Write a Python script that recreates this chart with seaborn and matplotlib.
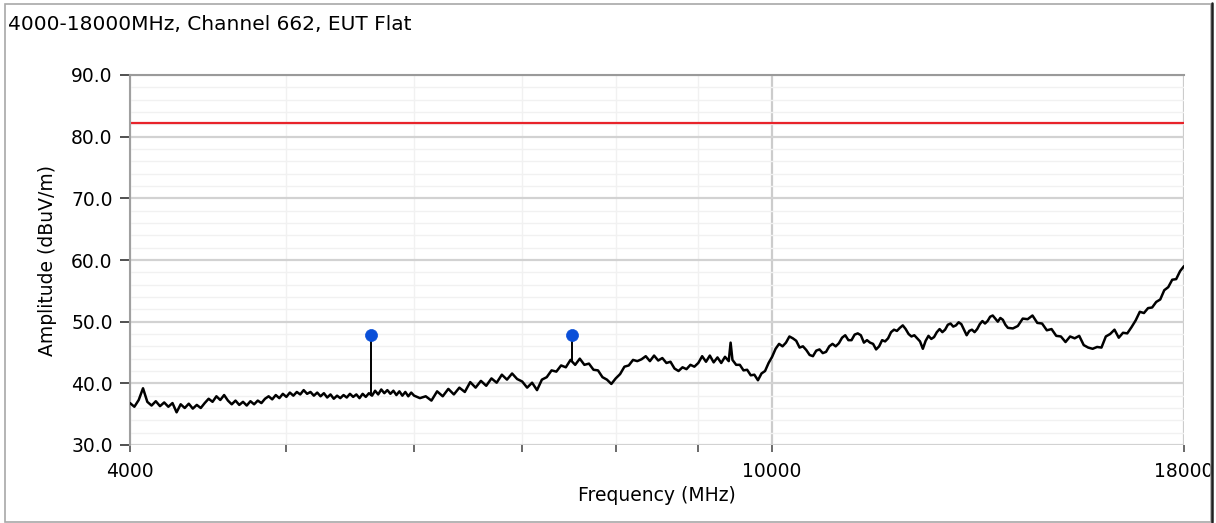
import numpy as np
import pandas as pd
import matplotlib
matplotlib.use("Agg")
import matplotlib.pyplot as plt
import seaborn as sns
from matplotlib.ticker import FixedLocator, FixedFormatter, NullFormatter
from matplotlib.patches import Rectangle
from matplotlib.lines import Line2D

# ---------------- data ----------------
title = "4000-18000MHz, Channel 662, EUT Flat"
x_label = "Frequency (MHz)"
y_label = "Amplitude (dBuV/m)"

freq_a = [4000, 4025, 4050, 4075, 4100, 4125, 4150, 4175, 4200, 4225, 4250, 4275, 4300, 4325, 4350,
          4375, 4400, 4425, 4450, 4475, 4500, 4525, 4550, 4575, 4600, 4625, 4650, 4675, 4700, 4725,
          4750, 4775, 4800, 4825, 4850, 4875, 4900, 4925, 4950, 4975, 5000, 5025, 5050, 5075, 5100,
          5125, 5150, 5175, 5200, 5225, 5250, 5275, 5300, 5325, 5350, 5375, 5400, 5425, 5450, 5475,
          5500, 5525, 5550, 5575, 5600, 5625, 5650, 5675, 5700, 5725, 5750, 5775, 5800, 5825, 5850,
          5875, 5900, 5925, 5950, 5975, 6000]
amp_a = [36.8, 36.2, 37.3, 39.2, 37.0, 36.4, 37.1, 36.3, 36.9, 36.2,
         36.8, 35.3, 36.6, 36.0, 36.7, 35.9, 36.5, 36.0, 36.8, 37.5,
         37.0, 37.9, 37.3, 38.1, 37.2, 36.6, 37.2, 36.5, 37.0, 36.4,
         37.1, 36.6, 37.2, 36.8, 37.5, 37.9, 37.4, 38.1, 37.6, 38.3,
         37.8, 38.5, 38.0, 38.6, 38.2, 38.9, 38.3, 38.6, 38.0, 38.5,
         37.9, 38.4, 37.7, 38.2, 37.5, 38.0, 37.6, 38.1, 37.7, 38.3,
         37.8, 38.2, 37.6, 38.3, 37.8, 38.4, 38.0, 38.8, 38.2, 39.0,
         38.4, 38.9, 38.3, 38.8, 38.1, 38.7, 38.0, 38.6, 37.9, 38.5,
         38.0]

freq_b = [6050, 6100, 6150, 6200, 6250, 6300, 6350, 6400, 6450, 6500,
          6550, 6600, 6650, 6700, 6750, 6800, 6850, 6900, 6950, 7000,
          7050, 7100, 7150, 7200, 7250, 7300, 7350, 7400, 7450, 7500,
          7550, 7600, 7650, 7700, 7750, 7800, 7850, 7900, 7950, 8000,
          8050, 8100, 8150, 8200, 8250, 8300, 8350, 8400, 8450, 8500,
          8550, 8600, 8650, 8700, 8750, 8800, 8850, 8900, 8950, 9000,
          9050, 9100, 9150, 9200, 9250, 9300, 9350, 9400, 9425, 9450,
          9500, 9550, 9600, 9650, 9700, 9750, 9800, 9850, 9900, 9950,
          10000]
amp_b = [37.6, 37.9, 37.2, 38.7, 37.9, 39.1, 38.2, 39.3, 38.6, 40.2,
         39.3, 40.4, 39.6, 40.8, 40.1, 41.4, 40.6, 41.6, 40.7, 40.3,
         39.3, 40.1, 38.9, 40.6, 41.0, 42.1, 41.9, 42.9, 42.6, 43.8,
         43.0, 44.0, 43.0, 43.2, 42.2, 42.1, 41.0, 40.6, 39.9, 40.8,
         41.5, 42.7, 42.9, 43.8, 43.6, 43.9, 44.4, 43.6, 44.5, 43.7,
         44.1, 43.3, 43.5, 42.4, 42.0, 42.6, 42.3, 43.0, 42.7, 43.3,
         44.4, 43.5, 44.5, 43.4, 44.2, 43.3, 44.3, 43.6, 46.6, 43.8,
         43.0, 43.0, 42.1, 42.2, 41.3, 41.4, 40.5, 41.6, 42.0, 43.3,
         44.3]

freq_c = [10050, 10100, 10150, 10200, 10250, 10300, 10350, 10400, 10450, 10500,
          10550, 10600, 10650, 10700, 10750, 10800, 10850, 10900, 10950, 11000,
          11050, 11100, 11150, 11200, 11250, 11300, 11350, 11400, 11450, 11500,
          11550, 11600, 11650, 11700, 11750, 11800, 11850, 11900, 11950, 12000,
          12050, 12100, 12150, 12200, 12250, 12300, 12350, 12400, 12450, 12500,
          12550, 12600, 12650, 12700, 12750, 12800, 12850, 12900, 12950, 13000,
          13050, 13100, 13150, 13200, 13250, 13300, 13350, 13400, 13450, 13500,
          13550, 13600, 13650, 13700, 13750, 13800, 13850, 13900, 13950, 14000,
          14100, 14200, 14300, 14400, 14500, 14600, 14700, 14800, 14900, 15000,
          15100, 15200, 15300, 15400, 15500, 15600, 15700, 15800, 15900, 16000,
          16100, 16200, 16300, 16400, 16500, 16600, 16700, 16800, 16900, 17000,
          17100, 17200, 17300, 17400, 17500, 17600, 17700, 17800, 17900, 18000]
amp_c = [45.6, 46.4, 46.0, 46.6, 47.6, 47.3, 46.9, 45.8, 46.0, 45.4,
         44.6, 44.4, 45.3, 45.5, 44.9, 45.1, 46.0, 46.4, 46.0, 46.5,
         47.4, 47.8, 47.0, 47.0, 47.9, 48.1, 47.8, 46.6, 47.0, 46.6,
         46.4, 45.5, 46.0, 47.0, 46.8, 47.3, 48.3, 48.7, 48.5, 49.0,
         49.4, 48.8, 48.0, 47.6, 47.8, 47.3, 46.8, 45.6, 46.9, 47.7,
         47.2, 47.5, 48.3, 48.8, 48.3, 48.7, 49.5, 49.7, 49.2, 49.4,
         49.9, 49.6, 48.7, 47.8, 48.5, 48.7, 48.3, 48.8, 49.6, 50.1,
         49.7, 50.1, 50.8, 51.0, 50.5, 50.0, 50.6, 50.3, 49.5, 49.0,
         48.9, 49.3, 50.5, 50.4, 51.0, 49.8, 49.7, 48.6, 48.8, 47.7,
         47.6, 46.7, 47.6, 47.3, 47.7, 46.2, 45.8, 45.6, 45.9, 45.8,
         47.6, 48.0, 48.7, 47.4, 48.2, 48.1, 49.1, 50.2, 51.6, 51.4,
         52.2, 52.3, 53.2, 53.6, 55.1, 55.6, 56.8, 56.9, 58.2, 59.0]

marker_freq = [5640, 7520]
marker_amp = [47.8, 47.8]
marker_base = [38.0, 43.4]

limit_value = 82.2

x_major = [4000, 10000, 18000]
x_major_labels = ["4000", "10000", "18000"]
x_minor = [5000, 6000, 7000, 8000, 9000]
y_major = [30, 40, 50, 60, 70, 80, 90]
y_minor = [32, 34, 36, 38, 42, 44, 46, 48, 52, 54, 56, 58, 62, 64, 66, 68, 72, 74, 76, 78, 82, 84, 86, 88]

# ---------------- plot ----------------
sns.set_style("white")
plt.rcParams["font.family"] = ["DejaVu Sans"]
plt.rcParams["text.color"] = "black"
plt.rcParams["axes.labelcolor"] = "black"
plt.rcParams["xtick.labelcolor"] = "black"
plt.rcParams["ytick.labelcolor"] = "black"

W, H = 1216, 523
fig = plt.figure(figsize=(W / 100, H / 100), dpi=100)
ax = fig.add_axes([130 / W, 1 - 445 / H, (1184 - 130) / W, (445 - 75) / H])

df = pd.DataFrame({"freq": freq_a + freq_b + freq_c, "amp": amp_a + amp_b + amp_c})
sns.lineplot(data=df, x="freq", y="amp", ax=ax, color="black", lw=1.8,
             estimator=None, sort=False, zorder=3)

ax.axhline(limit_value, color="#e8232a", lw=1.6, zorder=2)

ax.vlines(marker_freq, marker_base, marker_amp, color="black", lw=1.4, zorder=4)
sns.scatterplot(x=marker_freq, y=marker_amp, ax=ax, s=75, color="#0a4fd8",
                edgecolor="#0a4fd8", linewidth=0.5, zorder=5)

ax.set_xscale("log")
ax.set_xlim(4000, 18000)
ax.set_ylim(30, 90)

ax.xaxis.set_major_locator(FixedLocator(x_major))
ax.xaxis.set_major_formatter(FixedFormatter(x_major_labels))
ax.xaxis.set_minor_locator(FixedLocator(x_minor))
ax.xaxis.set_minor_formatter(NullFormatter())
ax.yaxis.set_major_locator(FixedLocator(y_major))
ax.set_yticklabels([f"{v:.1f}" for v in y_major])
ax.yaxis.set_minor_locator(FixedLocator(y_minor))

ax.set_axisbelow(True)
ax.grid(which="major", axis="y", color="#d2d2d2", lw=1.6)
ax.grid(which="minor", axis="y", color="#f1f1f1", lw=1.0)
ax.grid(which="major", axis="x", color="#cccccc", lw=1.6)
ax.grid(which="minor", axis="x", color="#f1f1f1", lw=1.0)

ax.tick_params(axis="y", which="major", direction="out", length=7.5, width=1.4,
               color="#505050", labelsize=13.5, labelcolor="black", pad=5, left=True)
ax.tick_params(axis="y", which="minor", length=0, left=False)
ax.tick_params(axis="x", which="both", direction="out", length=5, width=1.2,
               color="#505050", labelsize=13.5, labelcolor="black", pad=7, bottom=True)

for side in ["right", "bottom"]:
    ax.spines[side].set_visible(False)
ax.spines["left"].set_color("#a0a0a0")
ax.spines["left"].set_linewidth(1.5)
ax.spines["top"].set_color("#9a9a9a")
ax.spines["top"].set_linewidth(1.5)

ax.set_xlabel(x_label, fontsize=13.5, labelpad=4, color="black")
ax.set_ylabel(y_label, fontsize=13.5, labelpad=10, color="black")

fig.text(8 / W, 1 - 25 / H, title, ha="left", va="center", fontsize=14.5, color="black")

# figure border
fig.patches.append(Rectangle((5 / W, 1 / H), (1211 - 5) / W, (519 - 1) / H,
                             transform=fig.transFigure, fill=False,
                             edgecolor="#a8a8a8", lw=1.2))
fig.lines.append(Line2D([1212 / W, 1212 / W], [1 / H, 1 - 3 / H],
                        transform=fig.transFigure, color="#202020", lw=1.8))

fig.savefig("out.png", dpi=100)
